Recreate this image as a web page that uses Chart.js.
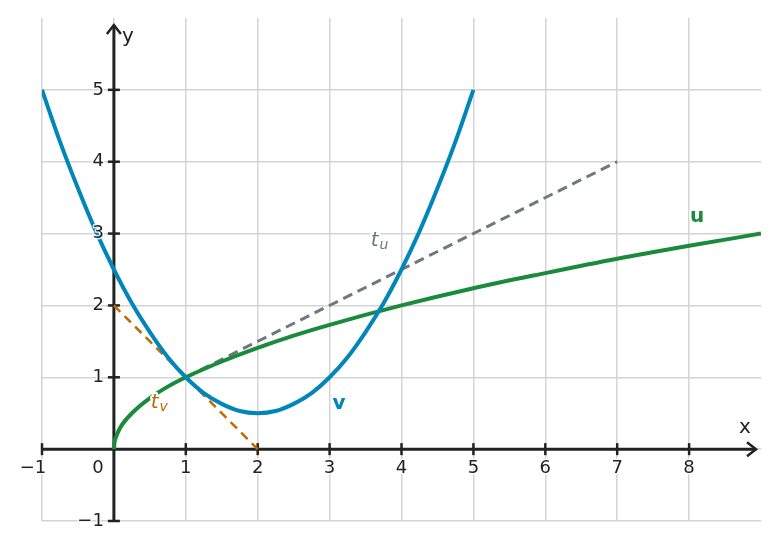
<!DOCTYPE html>
<html>
<head>
<meta charset="utf-8">
<script src="https://cdn.jsdelivr.net/npm/chart.js@4.4.0/dist/chart.umd.min.js"></script>
<style>
  html, body { margin: 0; padding: 0; background: #fff; }
  #wrap { width: 779px; height: 550px; }
</style>
</head>
<body>
<div id="wrap"><canvas id="graph"></canvas></div>
<script>
// curve u (square root shape)
const uX = [0, 0.01, 0.03, 0.06, 0.12, 0.25, 0.5, 0.75, 1, 1.5, 2, 2.5, 3, 4, 5, 6, 7, 8, 9];
const uY = [0, 0.1, 0.17, 0.245, 0.35, 0.5, 0.71, 0.87, 1, 1.22, 1.41, 1.58, 1.73, 2, 2.24, 2.45, 2.65, 2.83, 3];

// curve v (parabola, lowest at x=2)
const vX = [-1, -0.75, -0.5, -0.25, 0, 0.25, 0.5, 0.75, 1, 1.25, 1.5, 1.75, 2, 2.25, 2.5, 2.75, 3, 3.25, 3.5, 3.75, 4, 4.25, 4.5, 4.75, 5];
const vY = [5, 4.28, 3.63, 3.03, 2.5, 2.03, 1.63, 1.28, 1, 0.78, 0.63, 0.53, 0.5, 0.53, 0.63, 0.78, 1, 1.28, 1.63, 2.03, 2.5, 3.03, 3.63, 4.28, 5];

// tangent lines
const tuX = [1, 7];
const tuY = [1, 4];
const tvX = [0, 2];
const tvY = [2, 0];

// tick labels
const xTicks = [-1, 1, 2, 3, 4, 5, 6, 7, 8];
const yTicks = [1, 2, 3, 4, 5, -1];

// curve names and where they sit
const names = ['u', 'v', 't', 't'];
const subs = ['', '', 'u', 'v'];
const nameX = [8.11, 3.13, 3.71, 0.65];
const nameY = [3.23, 0.63, 2.9, 0.65];

const blue = '#0086b8';
const green = '#1a8a3c';
const grey = '#6f787f';
const orange = '#c06a00';
const ink = '#222';
const nameColors = [green, blue, grey, orange];

function pts(xs, ys) {
  return xs.map((x, i) => ({ x: x, y: ys[i] }));
}

const axesPlugin = {
  id: 'axes',
  beforeDatasetsDraw(chart) {
    const c = chart.ctx;
    const sx = chart.scales.x, sy = chart.scales.y;
    const x0 = sx.getPixelForValue(0), y0 = sy.getPixelForValue(0);
    c.save();
    c.strokeStyle = ink;
    c.lineWidth = 3;
    // x axis
    c.beginPath();
    c.moveTo(sx.getPixelForValue(-1), y0);
    c.lineTo(sx.right - 5, y0);
    c.stroke();
    // y axis
    c.beginPath();
    c.moveTo(x0, sy.getPixelForValue(-1));
    c.lineTo(x0, sy.top + 7);
    c.stroke();
    // arrow heads
    c.lineWidth = 2.5;
    c.beginPath();
    c.moveTo(sx.right - 14, y0 - 7);
    c.lineTo(sx.right - 5, y0);
    c.lineTo(sx.right - 14, y0 + 7);
    c.stroke();
    c.beginPath();
    c.moveTo(x0 - 7, sy.top + 16);
    c.lineTo(x0, sy.top + 7);
    c.lineTo(x0 + 7, sy.top + 16);
    c.stroke();
    // small tick marks
    c.lineWidth = 2.5;
    for (let v = -1; v <= 8; v++) {
      if (v === 0) continue;
      const px = sx.getPixelForValue(v);
      c.beginPath();
      c.moveTo(px, y0 - 6);
      c.lineTo(px, y0 + 6);
      c.stroke();
    }
    for (let v = -1; v <= 5; v++) {
      if (v === 0) continue;
      const py = sy.getPixelForValue(v);
      c.beginPath();
      c.moveTo(x0 - 6, py);
      c.lineTo(x0 + 6, py);
      c.stroke();
    }
    c.restore();
  },
  afterDatasetsDraw(chart) {
    const c = chart.ctx;
    const sx = chart.scales.x, sy = chart.scales.y;
    const x0 = sx.getPixelForValue(0), y0 = sy.getPixelForValue(0);
    c.save();
    c.font = '18px "DejaVu Sans"';
    c.fillStyle = ink;
    c.textBaseline = 'middle';
    c.strokeStyle = 'rgba(255,255,255,0.8)';
    c.lineWidth = 3;
    c.lineJoin = 'round';
    c.textAlign = 'center';
    xTicks.forEach(v => {
      const s = String(v).replace('-', '\u2212');
      const px = v < 0 ? sx.getPixelForValue(v) - 9 : sx.getPixelForValue(v);
      c.strokeText(s, px, y0 + 19);
      c.fillText(s, px, y0 + 19);
    });
    c.fillText('0', x0 - 16, y0 + 19);
    c.textAlign = 'right';
    yTicks.forEach(v => {
      const s = String(v).replace('-', '\u2212');
      c.strokeText(s, x0 - 10, sy.getPixelForValue(v));
      c.fillText(s, x0 - 10, sy.getPixelForValue(v));
    });
    // axis names
    c.font = '20px "DejaVu Sans"';
    c.textAlign = 'center';
    c.fillText('x', sx.right - 16, y0 - 21);
    c.fillText('y', x0 + 14, sy.top + 19);
    // curve names
    names.forEach((n, i) => {
      const px = sx.getPixelForValue(nameX[i]);
      const py = sy.getPixelForValue(nameY[i]);
      c.fillStyle = nameColors[i];
      c.strokeStyle = '#fff';
      c.lineWidth = 4;
      if (subs[i] === '') {
        c.font = 'bold 20px "DejaVu Sans"';
        c.textAlign = 'center';
        c.strokeText(n, px, py);
        c.fillText(n, px, py);
      } else {
        c.font = 'italic 20px "DejaVu Sans"';
        c.textAlign = 'left';
        const w = c.measureText(n).width;
        const left = px - 10;
        c.strokeText(n, left, py);
        c.fillText(n, left, py);
        c.font = 'italic 14px "DejaVu Sans"';
        c.strokeText(subs[i], left + w + 1, py + 5);
        c.fillText(subs[i], left + w + 1, py + 5);
      }
    });
    c.restore();
  }
};

// first dataset ends up on top, so v comes first
new Chart(document.getElementById('graph'), {
  type: 'scatter',
  data: {
    datasets: [
      {
        label: 'v', data: pts(vX, vY), showLine: true, borderColor: blue,
        borderWidth: 4, pointRadius: 0, fill: false, cubicInterpolationMode: 'monotone'
      },
      {
        label: 'u', data: pts(uX, uY), showLine: true, borderColor: green,
        borderWidth: 4, pointRadius: 0, fill: false, cubicInterpolationMode: 'monotone'
      },
      {
        label: 't_u', data: pts(tuX, tuY), showLine: true, borderColor: grey,
        borderWidth: 3, borderDash: [10, 6], pointRadius: 0, fill: false
      },
      {
        label: 't_v', data: pts(tvX, tvY), showLine: true, borderColor: orange,
        borderWidth: 2.5, borderDash: [9, 6], pointRadius: 0, fill: false
      }
    ]
  },
  options: {
    responsive: true,
    maintainAspectRatio: false,
    animation: false,
    layout: { padding: { left: 42, right: 18, top: 18, bottom: 29 } },
    plugins: { legend: { display: false }, tooltip: { enabled: false } },
    scales: {
      x: {
        type: 'linear', min: -1, max: 9,
        ticks: { display: false, stepSize: 1 },
        border: { display: false },
        grid: {
          drawTicks: false, lineWidth: 1.5,
          color: ctx => ctx.tick && ctx.tick.value === 9 ? 'rgba(0,0,0,0)' : '#d4d4d4'
        }
      },
      y: {
        type: 'linear', min: -1, max: 6,
        ticks: { display: false, stepSize: 1 },
        border: { display: false },
        grid: {
          drawTicks: false, lineWidth: 1.5,
          color: ctx => ctx.tick && ctx.tick.value === 6 ? 'rgba(0,0,0,0)' : '#d4d4d4'
        }
      }
    }
  },
  plugins: [axesPlugin]
});
</script>
</body>
</html>
